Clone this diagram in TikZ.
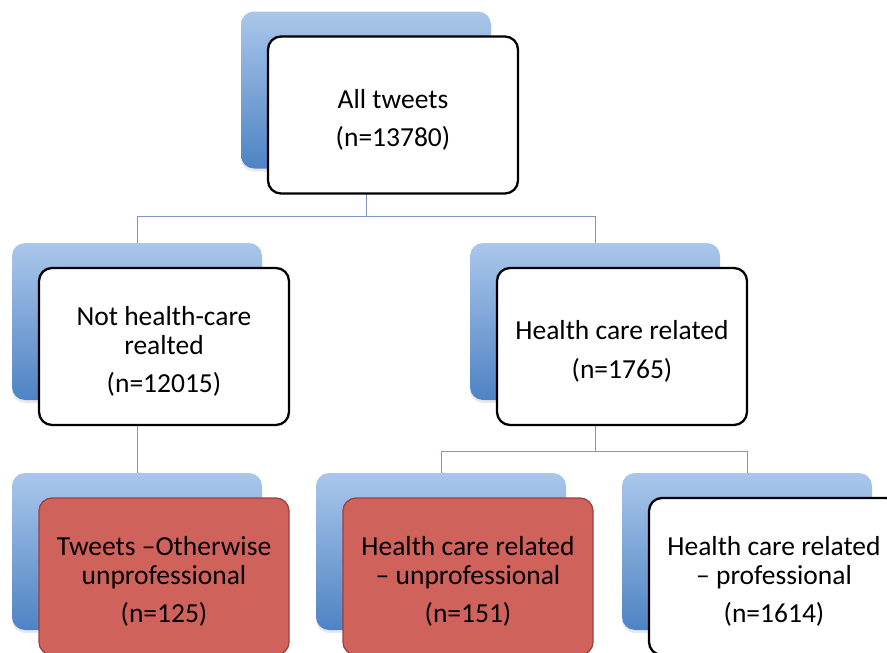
\documentclass[tikz,border=0pt]{standalone}
\usepackage{fontspec}
\setmainfont{Carlito}
\usetikzlibrary{backgrounds,shadows}

\definecolor{backtop}{RGB}{170,199,234}
\definecolor{backbot}{RGB}{78,131,196}
\definecolor{redfill}{RGB}{208,98,92}
\definecolor{redline}{RGB}{158,64,60}
\definecolor{linkblue}{RGB}{122,152,196}

% extra room above the first line, pushes the text a little down
\newcommand{\padtop}{\rule{0pt}{29pt}}

\tikzset{
  backbox/.style={rectangle, rounded corners=13pt, minimum width=250pt, minimum height=157pt,
    inner sep=0pt, top color=backtop, bottom color=backbot, draw=none,
    drop shadow={opacity=0.18, shadow xshift=0pt, shadow yshift=-3pt}},
  frontbox/.style={rectangle, rounded corners=13pt, minimum width=250pt, minimum height=157pt,
    inner sep=0pt, fill=white, draw=black, line width=2.3pt, align=center,
    font=\fontsize{27.5}{28.5}\selectfont, xshift=27pt, yshift=-25pt},
  redbox/.style={frontbox, fill=redfill, draw=redline, line width=1.3pt},
  link/.style={draw=linkblue, line width=1pt}
}

\begin{document}
\begin{tikzpicture}[x=1pt,y=-1pt]

    \path[use as bounding box, clip] (0,0) rectangle (887,653);

    %top level
    \node[backbox] (allB) at (366,90) {};
    \node[frontbox] (all) at (allB) {\padtop All tweets\\[10pt](n=13780)};

    %second level
    \node[backbox] (notB) at (137,321.5) {};
    \node[frontbox] (not) at (notB) {\padtop Not health-care\\realted\\[10pt](n=12015)};

    \node[backbox] (hcB) at (595,321.5) {};
    \node[frontbox] (hc) at (hcB) {\padtop Health care related\\[10pt](n=1765)};

    %third level
    \node[backbox] (otherB) at (137,551.5) {};
    \node[redbox] (other) at (otherB) {\padtop Tweets \textendash Otherwise\\unprofessional\\[10pt](n=125)};

    \node[backbox] (unprofB) at (441,551.5) {};
    \node[redbox] (unprof) at (unprofB) {\padtop Health care related\\\textendash{} unprofessional\\[10pt](n=151)};

    \node[backbox] (profB) at (747,551.5) {};
    \node[frontbox] (prof) at (profB) {\padtop Health care related\\\textendash{} professional\\[10pt](n=1614)};

    %connectors
    \begin{scope}[on background layer]
    \draw[link] (allB.south) -- ++(0,48) -| (notB.north);
    \draw[link] (allB.south) -- ++(0,48) -| (hcB.north);
    \draw[link] (notB.south) -- (otherB.north);
    \draw[link] (hcB.south) -- ++(0,51) -| (unprofB.north);
    \draw[link] (hcB.south) -- ++(0,51) -| (profB.north);
    \end{scope}

\end{tikzpicture}
\end{document}
